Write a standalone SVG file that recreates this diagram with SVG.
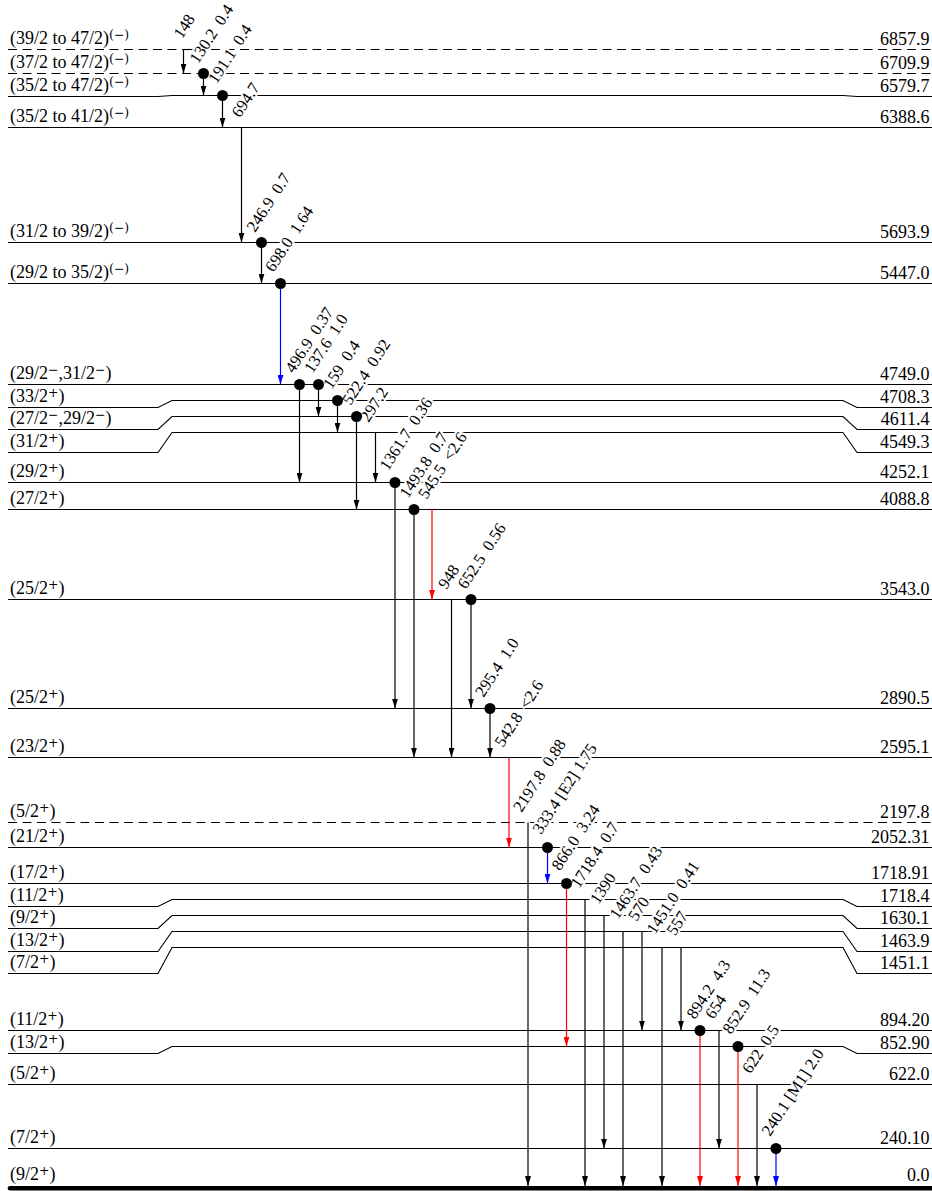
<svg xmlns="http://www.w3.org/2000/svg" width="932" height="1191" viewBox="0 0 932 1191">
<style>
.lv{stroke:#000;stroke-width:1.1;fill:none}
.dash{stroke-dasharray:9 5.5}
.gnd{stroke:#000;stroke-width:4.6;stroke-linecap:round}
.t{font-family:"Liberation Serif","Times New Roman",serif;font-size:18px;fill:#000}
.r{text-anchor:end}
.s{font-family:"DejaVu Serif",serif;font-size:12.5px}
.g{font-family:"Liberation Serif","Times New Roman",serif;font-size:16.5px;fill:#000;white-space:pre;paint-order:stroke;stroke:#fff;stroke-width:4.5px;stroke-linejoin:round}
.k{stroke:#000;stroke-width:1.2;marker-end:url(#ak)}
.rd{stroke:#ff0000;stroke-width:1.2;marker-end:url(#ar)}
.bl{stroke:#0000ff;stroke-width:1.2;marker-end:url(#ab)}
.dot{fill:#000}
</style>
<defs>
<marker id="ak" viewBox="0 0 10 6" refX="10" refY="3" markerWidth="10" markerHeight="6" markerUnits="userSpaceOnUse" orient="auto"><path d="M0,0 L10,3 L0,6 z" fill="#000"/></marker>
<marker id="ar" viewBox="0 0 10 6" refX="10" refY="3" markerWidth="10" markerHeight="6" markerUnits="userSpaceOnUse" orient="auto"><path d="M0,0 L10,3 L0,6 z" fill="#ff0000"/></marker>
<marker id="ab" viewBox="0 0 10 6" refX="10" refY="3" markerWidth="10" markerHeight="6" markerUnits="userSpaceOnUse" orient="auto"><path d="M0,0 L10,3 L0,6 z" fill="#0000ff"/></marker>
</defs>
<rect width="932" height="1191" fill="#fff"/>

<g id="levels">
<g id="lvl-6857.9"><path class="lv dash" d="M8,49.5 H932"/><path class="lv" d="M183,49.5 H193"/><text class="t" x="10" y="43.5">(39/2 to 47/2)<tspan class="s" dy="-5">(−)</tspan></text><text class="t r" x="929.5" y="44.5">6857.9</text></g>
<g id="lvl-6709.9"><path class="lv dash" d="M8,73.5 H932"/><text class="t" x="10" y="67.5">(37/2 to 47/2)<tspan class="s" dy="-5">(−)</tspan></text><text class="t r" x="929.5" y="68.5">6709.9</text></g>
<g id="lvl-6579.7"><path class="lv" d="M8,96.5 H158 L172,95.5 H843 L857,96.5 H932"/><text class="t" x="10" y="90.5">(35/2 to 47/2)<tspan class="s" dy="-5">(−)</tspan></text><text class="t r" x="929.5" y="91.5">6579.7</text></g>
<g id="lvl-6388.6"><path class="lv" d="M8,127.5 H932"/><text class="t" x="10" y="121.5">(35/2 to 41/2)<tspan class="s" dy="-5">(−)</tspan></text><text class="t r" x="929.5" y="122.5">6388.6</text></g>
<g id="lvl-5693.9"><path class="lv" d="M8,242.5 H932"/><text class="t" x="10" y="236.5">(31/2 to 39/2)<tspan class="s" dy="-5">(−)</tspan></text><text class="t r" x="929.5" y="237.5">5693.9</text></g>
<g id="lvl-5447.0"><path class="lv" d="M8,283.5 H932"/><text class="t" x="10" y="277.5">(29/2 to 35/2)<tspan class="s" dy="-5">(−)</tspan></text><text class="t r" x="929.5" y="278.5">5447.0</text></g>
<g id="lvl-4749.0"><path class="lv" d="M8,384.5 H932"/><text class="t" x="10" y="378.5">(29/2<tspan class="s" dy="-5">−</tspan><tspan dy="5">,31/2</tspan><tspan class="s" dy="-5">−</tspan><tspan dy="5">)</tspan></text><text class="t r" x="929.5" y="379.5">4749.0</text></g>
<g id="lvl-4708.3"><path class="lv" d="M8,407.5 H158 L172,400.5 H843 L857,407.5 H932"/><text class="t" x="10" y="401.5">(33/2<tspan class="s" dy="-5">+</tspan><tspan dy="5">)</tspan></text><text class="t r" x="929.5" y="402.5">4708.3</text></g>
<g id="lvl-4611.4"><path class="lv" d="M8,429.5 H158 L172,416.5 H843 L857,429.5 H932"/><text class="t" x="10" y="423.5">(27/2<tspan class="s" dy="-5">−</tspan><tspan dy="5">,29/2</tspan><tspan class="s" dy="-5">−</tspan><tspan dy="5">)</tspan></text><text class="t r" x="929.5" y="424.5">4611.4</text></g>
<g id="lvl-4549.3"><path class="lv" d="M8,452.5 H158 L172,432.5 H843 L857,452.5 H932"/><text class="t" x="10" y="446.5">(31/2<tspan class="s" dy="-5">+</tspan><tspan dy="5">)</tspan></text><text class="t r" x="929.5" y="447.5">4549.3</text></g>
<g id="lvl-4252.1"><path class="lv" d="M8,482.5 H932"/><text class="t" x="10" y="476.5">(29/2<tspan class="s" dy="-5">+</tspan><tspan dy="5">)</tspan></text><text class="t r" x="929.5" y="477.5">4252.1</text></g>
<g id="lvl-4088.8"><path class="lv" d="M8,509.5 H932"/><text class="t" x="10" y="503.5">(27/2<tspan class="s" dy="-5">+</tspan><tspan dy="5">)</tspan></text><text class="t r" x="929.5" y="504.5">4088.8</text></g>
<g id="lvl-3543.0"><path class="lv" d="M8,599.5 H932"/><text class="t" x="10" y="593.5">(25/2<tspan class="s" dy="-5">+</tspan><tspan dy="5">)</tspan></text><text class="t r" x="929.5" y="594.5">3543.0</text></g>
<g id="lvl-2890.5"><path class="lv" d="M8,708.5 H932"/><text class="t" x="10" y="702.5">(25/2<tspan class="s" dy="-5">+</tspan><tspan dy="5">)</tspan></text><text class="t r" x="929.5" y="703.5">2890.5</text></g>
<g id="lvl-2595.1"><path class="lv" d="M8,757.5 H932"/><text class="t" x="10" y="751.5">(23/2<tspan class="s" dy="-5">+</tspan><tspan dy="5">)</tspan></text><text class="t r" x="929.5" y="752.5">2595.1</text></g>
<g id="lvl-2197.8"><path class="lv dash" d="M8,822.5 H932"/><text class="t" x="10" y="816.5">(5/2<tspan class="s" dy="-5">+</tspan><tspan dy="5">)</tspan></text><text class="t r" x="929.5" y="817.5">2197.8</text></g>
<g id="lvl-2052.31"><path class="lv" d="M8,847.5 H932"/><text class="t" x="10" y="841.5">(21/2<tspan class="s" dy="-5">+</tspan><tspan dy="5">)</tspan></text><text class="t r" x="929.5" y="842.5">2052.31</text></g>
<g id="lvl-1718.91"><path class="lv" d="M8,883.5 H932"/><text class="t" x="10" y="877.5">(17/2<tspan class="s" dy="-5">+</tspan><tspan dy="5">)</tspan></text><text class="t r" x="929.5" y="878.5">1718.91</text></g>
<g id="lvl-1718.4"><path class="lv" d="M8,906.5 H158 L172,899.5 H843 L857,906.5 H932"/><text class="t" x="10" y="900.5">(11/2<tspan class="s" dy="-5">+</tspan><tspan dy="5">)</tspan></text><text class="t r" x="929.5" y="901.5">1718.4</text></g>
<g id="lvl-1630.1"><path class="lv" d="M8,928.5 H158 L172,915.5 H843 L857,928.5 H932"/><text class="t" x="10" y="922.5">(9/2<tspan class="s" dy="-5">+</tspan><tspan dy="5">)</tspan></text><text class="t r" x="929.5" y="923.5">1630.1</text></g>
<g id="lvl-1463.9"><path class="lv" d="M8,951.5 H158 L172,931.5 H843 L857,951.5 H932"/><text class="t" x="10" y="945.5">(13/2<tspan class="s" dy="-5">+</tspan><tspan dy="5">)</tspan></text><text class="t r" x="929.5" y="946.5">1463.9</text></g>
<g id="lvl-1451.1"><path class="lv" d="M8,973.5 H158 L172,947.5 H843 L857,973.5 H932"/><text class="t" x="10" y="967.5">(7/2<tspan class="s" dy="-5">+</tspan><tspan dy="5">)</tspan></text><text class="t r" x="929.5" y="968.5">1451.1</text></g>
<g id="lvl-894.20"><path class="lv" d="M8,1030.5 H932"/><text class="t" x="10" y="1024.5">(11/2<tspan class="s" dy="-5">+</tspan><tspan dy="5">)</tspan></text><text class="t r" x="929.5" y="1025.5">894.20</text></g>
<g id="lvl-852.90"><path class="lv" d="M8,1053.5 H158 L172,1046.5 H843 L857,1053.5 H932"/><text class="t" x="10" y="1047.5">(13/2<tspan class="s" dy="-5">+</tspan><tspan dy="5">)</tspan></text><text class="t r" x="929.5" y="1048.5">852.90</text></g>
<g id="lvl-622.0"><path class="lv" d="M8,1084.5 H932"/><text class="t" x="10" y="1078.5">(5/2<tspan class="s" dy="-5">+</tspan><tspan dy="5">)</tspan></text><text class="t r" x="929.5" y="1079.5">622.0</text></g>
<g id="lvl-240.10"><path class="lv" d="M8,1148.5 H932"/><text class="t" x="10" y="1142.5">(7/2<tspan class="s" dy="-5">+</tspan><tspan dy="5">)</tspan></text><text class="t r" x="929.5" y="1143.5">240.10</text></g>
<g id="lvl-0.0"><path class="gnd" d="M10,1188.3 H934"/><text class="t" x="10" y="1180">(9/2<tspan class="s" dy="-5">+</tspan><tspan dy="5">)</tspan></text><text class="t r" x="929.5" y="1181">0.0</text></g>
</g>

<g id="gamma-labels">
<text class="g" transform="translate(182,39.5) rotate(-57)">148</text>
<text class="g" transform="translate(198,64.5) rotate(-57)">130.2  0.4</text>
<text class="g" transform="translate(216.5,84.5) rotate(-57)">191.1  0.4</text>
<text class="g" transform="translate(240,118.5) rotate(-57)">694.7</text>
<text class="g" transform="translate(255,233) rotate(-57)">246.9  0.7</text>
<text class="g" transform="translate(273.5,273) rotate(-57)">698.0  1.64</text>
<text class="g" transform="translate(293.5,374) rotate(-57)">496.9  0.37</text>
<text class="g" transform="translate(312.5,374) rotate(-57)">137.6  1.0</text>
<text class="g" transform="translate(331.5,390) rotate(-57)">159  0.4</text>
<text class="g" transform="translate(350.5,406) rotate(-57)">522.4  0.92</text>
<text class="g" transform="translate(368.5,423) rotate(-57)">297.2</text>
<text class="g" transform="translate(388,471.5) rotate(-57)">1361.7  0.36</text>
<text class="g" transform="translate(408,499) rotate(-57)">1493.8  0.7</text>
<text class="g" transform="translate(426.5,500) rotate(-57)">545.5  &lt;2.6</text>
<text class="g" transform="translate(446.5,590) rotate(-57)">948</text>
<text class="g" transform="translate(466,590) rotate(-57)">652.5  0.56</text>
<text class="g" transform="translate(483.5,698) rotate(-57)">295.4  1.0</text>
<text class="g" transform="translate(503,748) rotate(-57)">542.8  &lt;2.6</text>
<text class="g" transform="translate(521.5,813) rotate(-57)">2197.8  0.88</text>
<text class="g" transform="translate(541,835) rotate(-57)">333.4 [E2] 1.75</text>
<text class="g" transform="translate(560,871.5) rotate(-57)">866.0  3.24</text>
<text class="g" transform="translate(579,889) rotate(-57)">1718.4  0.7</text>
<text class="g" transform="translate(598.5,905) rotate(-57)">1390</text>
<text class="g" transform="translate(618,920) rotate(-57)">1463.7  0.43</text>
<text class="g" transform="translate(636.5,922) rotate(-57)">570</text>
<text class="g" transform="translate(655,935) rotate(-57)">1451.0  0.41</text>
<text class="g" transform="translate(675,936.5) rotate(-57)">557</text>
<text class="g" transform="translate(695,1020) rotate(-57)">894.2  4.3</text>
<text class="g" transform="translate(713.5,1020) rotate(-57)">654</text>
<text class="g" transform="translate(731,1035) rotate(-57)">852.9  11.3</text>
<text class="g" transform="translate(750.5,1074.5) rotate(-57)">622  0.5</text>
<text class="g" transform="translate(770,1137) rotate(-57)">240.1 [M1] 2.0</text>
</g>

<g id="transitions">
<line class="k" x1="183.5" y1="49.5" x2="183.5" y2="73.5"/>
<line class="k" x1="203.5" y1="73.5" x2="203.5" y2="95.5"/>
<line class="k" x1="222.5" y1="95.5" x2="222.5" y2="127.5"/>
<line class="k" x1="241.5" y1="127.5" x2="241.5" y2="242.5"/>
<line class="k" x1="261.5" y1="242.5" x2="261.5" y2="283.5"/>
<line class="bl" x1="280.5" y1="283.5" x2="280.5" y2="384.5"/>
<line class="k" x1="299.5" y1="384.5" x2="299.5" y2="482.5"/>
<line class="k" x1="318.5" y1="384.5" x2="318.5" y2="416.5"/>
<line class="k" x1="337.5" y1="400.5" x2="337.5" y2="432.5"/>
<line class="k" x1="356.5" y1="416.5" x2="356.5" y2="509.5"/>
<line class="k" x1="375.5" y1="432.5" x2="375.5" y2="482.5"/>
<line class="k" x1="395" y1="482.5" x2="395" y2="708.5"/>
<line class="k" x1="414" y1="509.5" x2="414" y2="757.5"/>
<line class="rd" x1="432" y1="509.5" x2="432" y2="599.5"/>
<line class="k" x1="451.5" y1="599.5" x2="451.5" y2="757.5"/>
<line class="k" x1="471" y1="599.5" x2="471" y2="708.5"/>
<line class="k" x1="490" y1="708.5" x2="490" y2="757.5"/>
<line class="rd" x1="509" y1="757.5" x2="509" y2="847.5"/>
<line class="k" x1="528" y1="822.5" x2="528" y2="1186"/>
<line class="bl" x1="547.5" y1="847.5" x2="547.5" y2="883.5"/>
<line class="rd" x1="566.5" y1="883.5" x2="566.5" y2="1046.5"/>
<line class="k" x1="585" y1="899.5" x2="585" y2="1186"/>
<line class="k" x1="604" y1="915.5" x2="604" y2="1148.5"/>
<line class="k" x1="623" y1="931.5" x2="623" y2="1186"/>
<line class="k" x1="642" y1="931.5" x2="642" y2="1030.5"/>
<line class="k" x1="662" y1="947.5" x2="662" y2="1186"/>
<line class="k" x1="681" y1="947.5" x2="681" y2="1030.5"/>
<line class="rd" x1="700" y1="1030.5" x2="700" y2="1186"/>
<line class="k" x1="719" y1="1030.5" x2="719" y2="1148.5"/>
<line class="rd" x1="738" y1="1046.5" x2="738" y2="1186"/>
<line class="k" x1="757" y1="1084.5" x2="757" y2="1186"/>
<line class="bl" x1="776" y1="1148.5" x2="776" y2="1186"/>
</g>

<g id="dots">
<circle class="dot" cx="203.5" cy="73.5" r="5.5"/>
<circle class="dot" cx="222.5" cy="95.5" r="5.5"/>
<circle class="dot" cx="261.5" cy="242.5" r="5.5"/>
<circle class="dot" cx="280.5" cy="283.5" r="5.5"/>
<circle class="dot" cx="299.5" cy="384.5" r="5.5"/>
<circle class="dot" cx="318.5" cy="384.5" r="5.5"/>
<circle class="dot" cx="337.5" cy="400.5" r="5.5"/>
<circle class="dot" cx="356.5" cy="416.5" r="5.5"/>
<circle class="dot" cx="395" cy="482.5" r="5.5"/>
<circle class="dot" cx="414" cy="509.5" r="5.5"/>
<circle class="dot" cx="471" cy="599.5" r="5.5"/>
<circle class="dot" cx="490" cy="708.5" r="5.5"/>
<circle class="dot" cx="547.5" cy="847.5" r="5.5"/>
<circle class="dot" cx="566.5" cy="883.5" r="5.5"/>
<circle class="dot" cx="700" cy="1030.5" r="5.5"/>
<circle class="dot" cx="738" cy="1046.5" r="5.5"/>
<circle class="dot" cx="776" cy="1148.5" r="5.5"/>
</g>
</svg>
